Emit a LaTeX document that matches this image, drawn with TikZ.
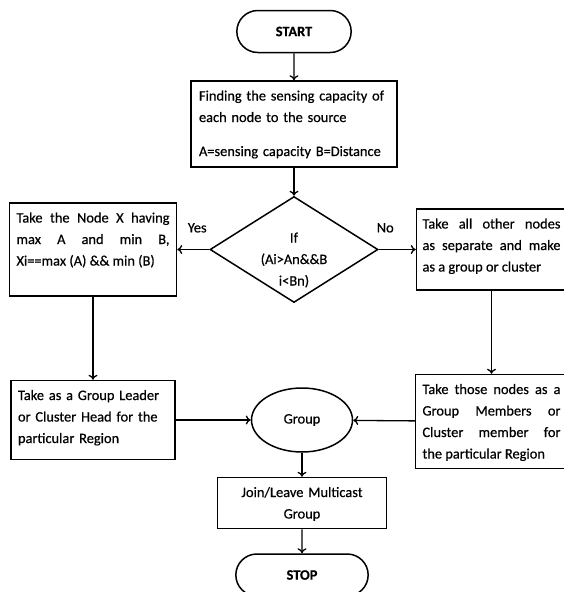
\documentclass[tikz,border=0pt]{standalone}
\usepackage{fontspec}
\setmainfont{Carlito}[FakeBold=0.5]
\usepackage{tikz}
\usetikzlibrary{shapes}
\usetikzlibrary{positioning,arrows,arrows.meta}
\hyphenpenalty=10000

\begin{document}
\begin{tikzpicture}[->,>={To[length=5pt,width=9pt]},line width=1.3pt,node distance=28pt,
    font=\fontsize{14.4}{21.5}\selectfont,
    term/.style={rounded rectangle,draw,line width=1.5pt,minimum height=42pt,
      font=\fontsize{14.4}{18}\selectfont\bfseries},
    proc/.style={rectangle,draw,line width=1.5pt,inner xsep=7pt,inner ysep=6pt,
      text height=13.5pt},
    decision/.style={diamond,draw,line width=1.5pt,inner sep=0pt,aspect=1.585,
      minimum width=168pt,minimum height=106pt,text width=72pt,align=center,
      text height=16pt,text depth=30pt}]
  \useasboundingbox (0,0) rectangle (564pt,-592pt);

  \node[term,minimum width=121pt] (n_start) at (294pt,-31.5pt) {START};
  \node[proc,text width=190pt,inner xsep=8pt,align=left,text depth=60.5pt] (n_find) [below = 27pt of n_start] {
    Finding the sensing capacity of\\
    each node to the source\\[12.5pt]
    A=sensing capacity B=Distance};
  \node[decision] (n_dec) [below = 28pt of n_find] {If\\(Ai>An\&\&B\\i<Bn)};

  \node[proc,text width=153pt,align=justify,text depth=67.5pt] (n_yes) [left = 32pt of n_dec] {
    Take the Node X having\linebreak
    max A and min B,\linebreak
    Xi==max (A) \&\& min (B)};
  \node[proc,text width=138pt,inner xsep=6pt,align=justify,text depth=55.5pt] (n_no) [right = 37pt of n_dec] {
    Take all other nodes\linebreak
    as separate and make\linebreak
    as a group or cluster};

  \node[proc,text width=150pt,align=left,text depth=53.5pt] (n_lead) [below = 83pt of n_yes] {
    Take as a Group Leader\\
    or Cluster Head for the\\
    particular Region};
  \node[proc,text width=138pt,align=justify,text depth=68.5pt] (n_member) [below = 83pt of n_no] {
    Take those nodes as a\linebreak
    Group Members or\linebreak
    Cluster member for\linebreak
    the particular Region};

  \node[ellipse,draw,line width=1.5pt,inner sep=0pt,minimum width=101pt,minimum height=64pt] (n_group) [right = 75pt of n_lead] {Group};
  \node[proc,text width=155pt,align=center,text depth=25.5pt] (n_join) [below = 24pt of n_group] {
    Join/Leave Multicast\\
    Group};
  \node[term,minimum width=139pt] (n_stop) [below = 24pt of n_join] {STOP};

  \path (n_start) edge (n_find)
  (n_find) edge (n_dec)
  (n_dec) edge node [above=13pt,xshift=4pt] {Yes} (n_yes)
  (n_dec) edge node [above=13pt,xshift=-12pt] {No} (n_no)
  (n_yes) edge (n_lead)
  (n_no) edge (n_member)
  (n_lead) edge (n_group)
  (n_member) edge (n_group)
  (n_group) edge (n_join)
  (n_join) edge (n_stop);
\end{tikzpicture}
\end{document}
